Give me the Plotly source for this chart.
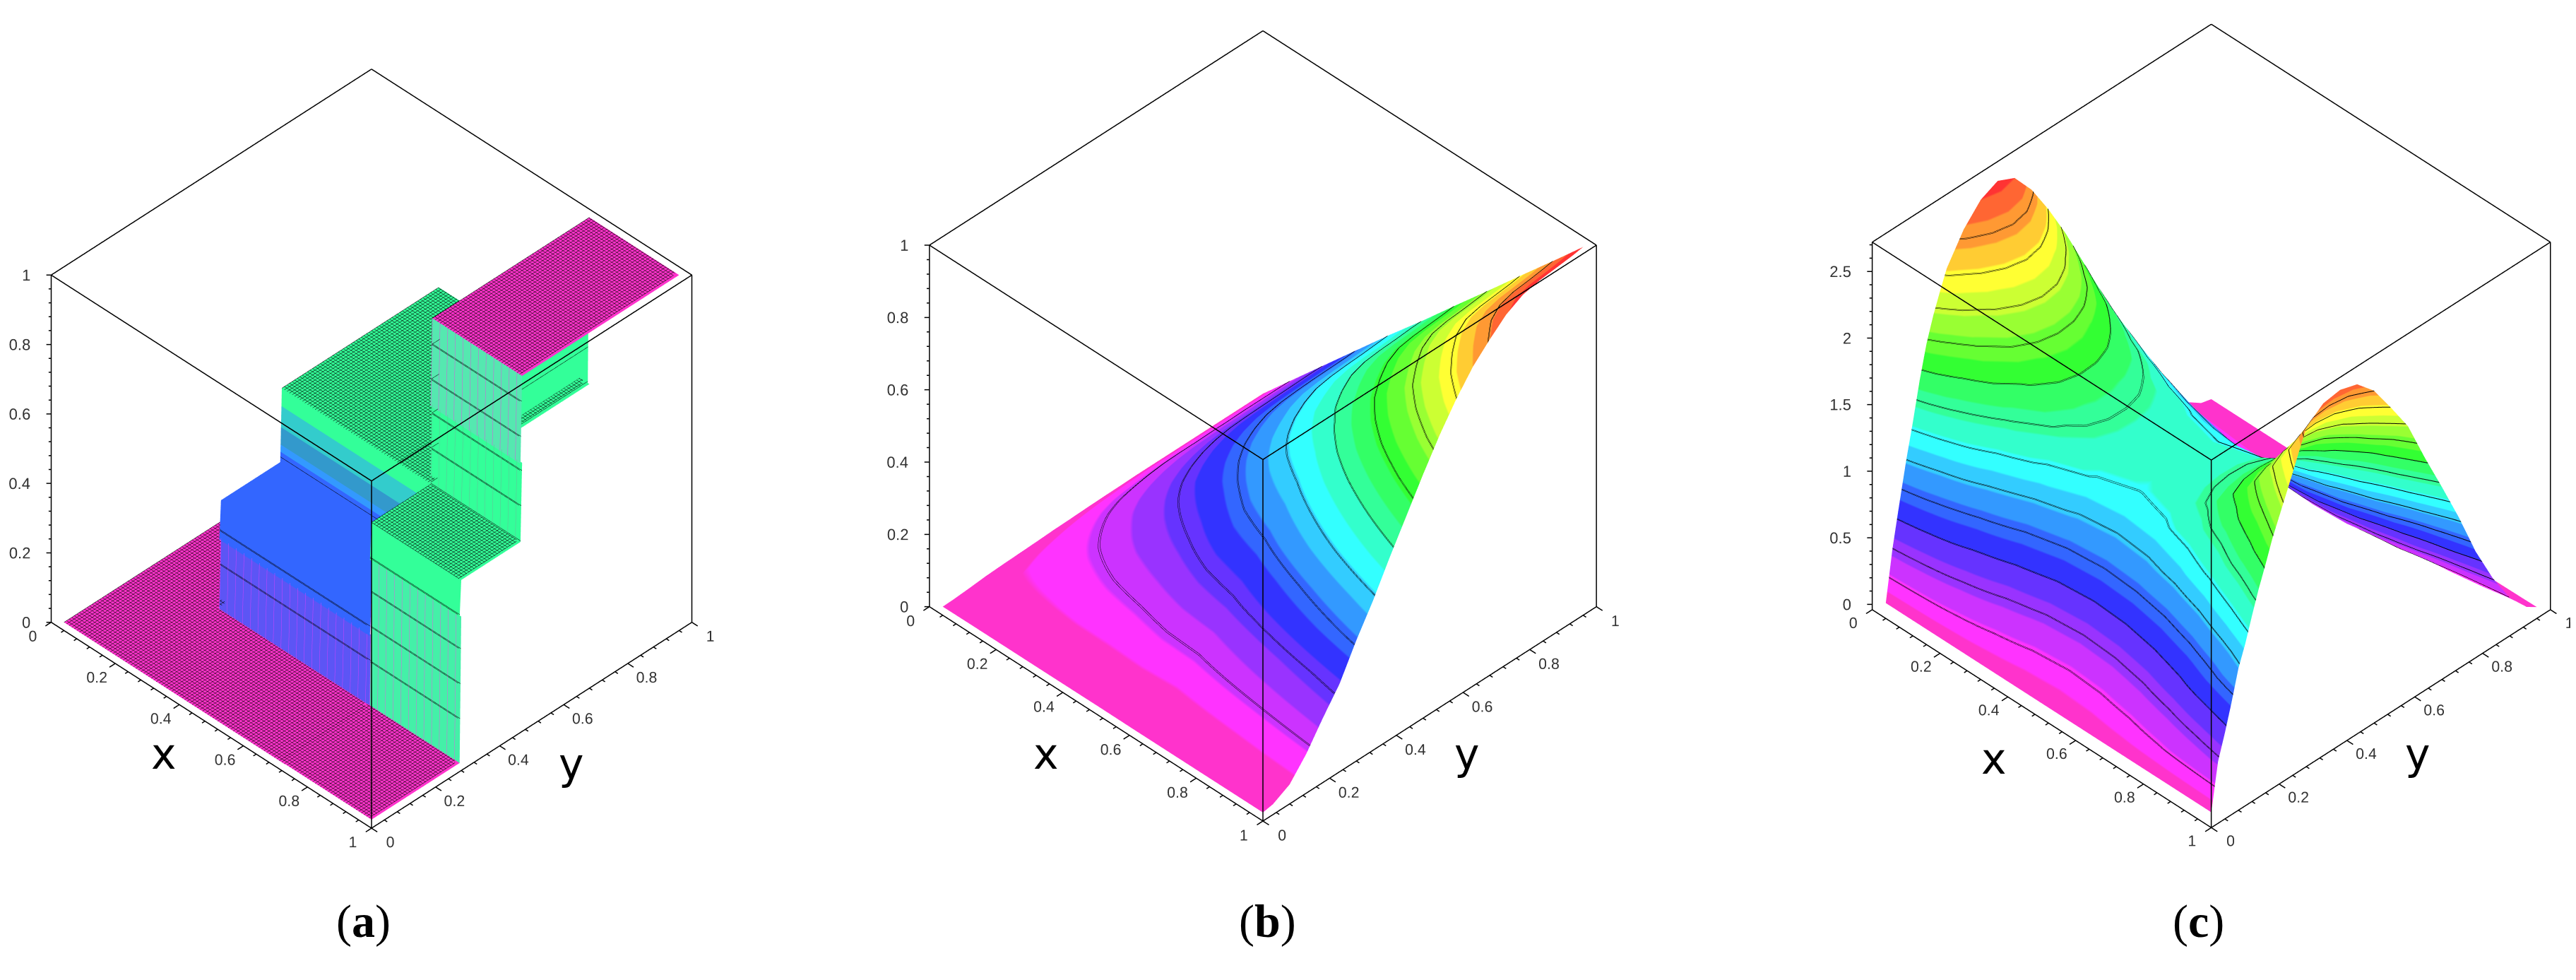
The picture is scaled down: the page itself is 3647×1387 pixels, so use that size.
import numpy as np
import plotly.graph_objects as go

W, H = 3647, 1387

# --- panel (b): surface height, one list per x node
x_b = [0.02, 0.1, 0.2, 0.3, 0.4, 0.5, 0.6, 0.7, 0.8, 0.9, 0.98]
y_b = [0.02, 0.05, 0.1, 0.15, 0.2, 0.25, 0.3, 0.35, 0.4, 0.45, 0.5, 0.55, 0.6, 0.65, 0.7, 0.75, 0.8, 0.85, 0.9, 0.95, 0.98]
z_b_by_x = [
    [.0001, .0009, .004, .008, .01, .0115, .013, .015, .016, .0175, .0185, .019, .02, .02, .02, .02, .02, .02, .02, .02, .02],
    [.0004, .0046, .02, .04, .049, .058, .066, .074, .082, .088, .092, .096, .099, .1, .1, .101, .101, .102, .102, .102, .102],
    [.0004, .004, .022, .045, .063, .08, .098, .115, .133, .149, .163, .175, .185, .193, .198, .2, .201, .202, .203, .204, .204],
    [.0003, .005, .021, .052, .073, .099, .125, .153, .177, .203, .228, .248, .266, .28, .291, .297, .3, .302, .303, .304, .306],
    [.0004, .004, .02, .053, .08, .112, .147, .182, .216, .251, .286, .316, .341, .361, .379, .392, .398, .401, .403, .406, .408],
    [.0005, .004, .02, .056, .092, .128, .173, .217, .263, .306, .347, .388, .421, .449, .469, .487, .497, .501, .503, .506, .507],
    [0, .003, .018, .052, .095, .135, .19, .239, .294, .346, .398, .447, .49, .526, .554, .578, .594, .6, .603, .606, .609],
    [0, .004, .021, .061, .111, .157, .221, .278, .343, .403, .464, .521, .571, .614, .646, .675, .693, .7, .703, .707, .71],
    [0, .004, .024, .069, .126, .18, .253, .318, .392, .461, .53, .596, .653, .702, .738, .771, .792, .8, .804, .808, .812],
    [0, .005, .028, .078, .142, .202, .285, .358, .441, .519, .597, .67, .734, .789, .831, .868, .89, .9, .904, .909, .913],
    [0, .005, .03, .085, .155, .22, .31, .39, .48, .565, .65, .73, .8, .86, .905, .945, .97, .98, .985, .99, .995],
]

# --- panel (c): surface height above the box floor, one list per y node
x_c = [0.02, 0.06, 0.1, 0.2, 0.3, 0.4, 0.5, 0.6, 0.7, 0.8, 0.9, 0.94, 0.98]
y_c = [0.02, 0.04, 0.06, 0.08, 0.1, 0.12, 0.14, 0.16, 0.18, 0.2, 0.25, 0.3, 0.35, 0.4, 0.45, 0.5, 0.55, 0.6, 0.65, 0.7, 0.75, 0.8, 0.85, 0.9, 0.95, 0.98]
z_c = [
    [.05, .05, .05, .05, .05, .05, .05, .05, .05, .05, .05, .05, .05],
    [.43, .376, .326, .223, .149, .105, .09, .103, .144, .211, .305, .35, .4],
    [.73, .637, .553, .376, .251, .175, .15, .168, .225, .318, .448, .511, .58],
    [1.02, .892, .775, .532, .359, .254, .22, .244, .317, .438, .609, .69, .78],
    [1.28, 1.123, .98, .682, .471, .342, .3, .33, .422, .573, .786, .888, 1.0],
    [1.56, 1.376, 1.208, .859, .61, .459, .41, .442, .539, .699, .924, 1.032, 1.15],
    [1.8, 1.597, 1.411, 1.025, .751, .585, .53, .564, .669, .842, 1.085, 1.202, 1.33],
    [1.98, 1.769, 1.576, 1.175, .89, .717, .66, .696, .806, .988, 1.243, 1.366, 1.5],
    [2.13, 1.917, 1.723, 1.319, 1.031, .857, .8, .837, .948, 1.132, 1.39, 1.514, 1.65],
    [2.27, 2.054, 1.857, 1.447, 1.155, .978, .92, .958, 1.075, 1.267, 1.538, 1.668, 1.81],
    [2.48, 2.267, 2.073, 1.669, 1.381, 1.207, 1.15, 1.193, 1.322, 1.536, 1.837, 1.982, 2.14],
    [2.62, 2.399, 2.198, 1.778, 1.48, 1.299, 1.24, 1.293, 1.456, 1.724, 2.101, 2.282, 2.48],
    [2.68, 2.454, 2.249, 1.82, 1.515, 1.331, 1.27, 1.326, 1.498, 1.781, 2.179, 2.37, 2.58],
    [2.62, 2.406, 2.21, 1.803, 1.513, 1.338, 1.28, 1.337, 1.51, 1.795, 2.196, 2.389, 2.6],
    [2.45, 2.263, 2.092, 1.736, 1.484, 1.33, 1.28, 1.335, 1.503, 1.779, 2.168, 2.355, 2.56],
    [2.22, 2.066, 1.926, 1.634, 1.427, 1.301, 1.26, 1.31, 1.464, 1.716, 2.072, 2.243, 2.43],
    [1.96, 1.835, 1.721, 1.484, 1.316, 1.214, 1.18, 1.225, 1.361, 1.586, 1.902, 2.054, 2.22],
    [1.67, 1.566, 1.471, 1.274, 1.133, 1.048, 1.02, 1.062, 1.191, 1.402, 1.7, 1.843, 2.0],
    [1.37, 1.287, 1.211, 1.053, .94, .872, .85, .886, .994, 1.174, 1.426, 1.547, 1.68],
    [1.08, 1.011, .948, .818, .725, .668, .65, .681, .777, .935, 1.157, 1.263, 1.38],
    [.78, .73, .685, .591, .524, .483, .47, .496, .574, .704, .886, .974, 1.07],
    [.52, .485, .453, .386, .338, .309, .3, .318, .375, .468, .598, .661, .73],
    [.29, .271, .253, .217, .191, .175, .17, .182, .219, .279, .364, .405, .45],
    [.12, .112, .105, .09, .079, .072, .07, .076, .096, .129, .174, .196, .22],
    [.03, .028, .027, .024, .022, .02, .02, .022, .029, .04, .055, .062, .07],
    [.01, .01, .01, .01, .01, .01, .01, .011, .012, .014, .017, .018, .02],
]
floor_c = -0.04  # the box of panel (c) starts a little below its 0 tick

# --- panel (a): step surface, flats and walls as x0, x1, y0, y1, z0, z1
flats_a = [
    (0.02, 0.71, 0.02, 0.295, 0.0, "#ff33cc", True),
    (0.692, 0.98, 0.02, 0.295, 0.001, "#ff33cc", True),
    (0.02, 0.23, 0.292, 0.98, 0.0, "#ff33cc", True),
    (0.23, 0.70, 0.30, 0.485, 0.31, "#3366ff", False),
    (0.70, 0.98, 0.30, 0.485, 0.525, "#33ff99", True),
    (0.23, 0.70, 0.49, 0.98, 0.52, "#33ff99", True),
    (0.70, 0.98, 0.49, 0.98, 1.0, "#ff33cc", True),
]
walls_a = [
    (0.70, 0.98, 0.295, 0.30, 0.0, 0.42, "#44f0a8", "#e060e0"),
    (0.70, 0.98, 0.295, 0.30, 0.42, 0.525, "#33ff99", None),
    (0.23, 0.70, 0.295, 0.30, 0.0, 0.2, "#5c55f5", "#d040ff"),
    (0.23, 0.70, 0.295, 0.30, 0.2, 0.31, "#3366ff", None),
    (0.70, 0.98, 0.485, 0.49, 0.525, 0.75, "#33ff99", "#66bb99"),
    (0.70, 0.98, 0.485, 0.49, 0.75, 1.0, "#55e8b0", "#e050e0"),
]
under_a = (0.695, 0.70, 0.49, 0.98, 0.52, 1.0, "#33ff99")
# wall between the blue and the green flat
band_z_a = [0.31, 0.34, 0.36, 0.41, 0.47, 0.52]
band_col_a = ["#3366ff", "#3399ff", "#3399cc", "#33cccc", "#33ff99"]

# --- shared
hue_bands = ["#ff33cc", "#ff33ff", "#cc33ff", "#9933ff", "#6633ff", "#3333ff", "#3366ff", "#3399ff",
             "#33ccff", "#33ffff", "#33ffcc", "#33ff99", "#33ff66", "#33ff33", "#66ff33", "#99ff33",
             "#ccff33", "#ffff33", "#ffcc33", "#ff9933", "#ff6633", "#ff3333"]
tick_01 = [0, 0.2, 0.4, 0.6, 0.8, 1]
tick_01_text = ["0", "0.2", "0.4", "0.6", "0.8", "1"]
tick_c = [0, 0.5, 1, 1.5, 2, 2.5]
tick_c_text = ["0", "0.5", "1", "1.5", "2", "2.5"]
zmax_c = 2.72

FLAT = dict(ambient=1, diffuse=0, specular=0, roughness=1, fresnel=0)
PAD = 0.03
Z_PAD = 0.005
Z_LABEL_FONT = dict(family="Liberation Sans", size=22, color="#333333")
AXIS_LABEL_FONT = dict(family="Liberation Sans", size=16, color="#333333")


def stepped(colors, edges=None):
    n = len(colors)
    if edges is None:
        edges = [i / n for i in range(n + 1)]
    scale = []
    for i, c in enumerate(colors):
        scale += [[edges[i], c], [edges[i + 1], c]]
    return scale


def z_lines(start, end, size):
    return dict(show=True, start=start, end=end, size=size, color="black", width=2, highlight=False)


def off():
    return dict(show=False, highlight=False)


def solid(xs, ys, zs, color, scene, contours):
    zs = np.array(zs, dtype=float)
    return go.Surface(x=xs, y=ys, z=zs, surfacecolor=np.zeros_like(zs), cmin=0, cmax=1,
                      colorscale=[[0, color], [1, color]], showscale=False, lighting=FLAT,
                      hoverinfo="skip", scene=scene, contours=contours)


def thicken(xs, ys, zs, scene, start, end, size):
    # gl contour lines stay one pixel wide, so a second set sits just next to the first
    return go.Surface(x=xs, y=ys, z=zs, hidesurface=True, showscale=False, hoverinfo="skip", scene=scene,
                      contours=dict(z=z_lines(start, end, size), x=off(), y=off()))


def frame(scene, zmin, zmax, major_z, minor_z):
    xs, ys, zs = [], [], []

    def seg(a, b):
        xs.extend([a[0], b[0], None])
        ys.extend([a[1], b[1], None])
        zs.extend([a[2], b[2], None])

    for a, b in [((0, 0, zmin), (1, 0, zmin)), ((1, 0, zmin), (1, 1, zmin)), ((0, 0, zmin), (0, 0, zmax)),
                 ((1, 0, zmin), (1, 0, zmax)), ((1, 1, zmin), (1, 1, zmax)), ((0, 0, zmax), (1, 0, zmax)),
                 ((1, 0, zmax), (1, 1, zmax)), ((1, 1, zmax), (0, 1, zmax)), ((0, 1, zmax), (0, 0, zmax))]:
        seg(a, b)
    for i in range(26):
        t = i / 25
        d = 0.018 if i % 5 == 0 else 0.009
        seg((t, 0, zmin), (t, -d, zmin))
        seg((1, t, zmin), (1 + d, t, zmin))
    for v in minor_z:
        seg((0, 0, v), (-0.004, -0.004, v))
    for v in major_z:
        seg((0, 0, v), (-0.0075, -0.0075, v))
    return go.Scatter3d(x=xs, y=ys, z=zs, mode="lines", line=dict(color="black", width=3),
                        hoverinfo="skip", showlegend=False, scene=scene)


def z_labels(scene, ztick, ztext):
    n = len(ztick)
    return go.Scatter3d(x=[-0.009] * n, y=[-0.009] * n, z=ztick, text=ztext, mode="text",
                        textposition="middle left", textfont=Z_LABEL_FONT,
                        hoverinfo="skip", showlegend=False, scene=scene)


def scene_layout(cx, cy, half_w, half_h, zmin, zmax, k, shift=0.0, lift=0.0):
    axis = dict(showbackground=False, showgrid=False, zeroline=False, showline=False, showspikes=False,
                ticks="", title=dict(text=""), tickangle=0, tickfont=AXIS_LABEL_FONT)
    return dict(
        domain=dict(x=[(cx - half_w) / W, (cx + half_w) / W], y=[1 - (cy + half_h) / H, 1 - (cy - half_h) / H]),
        xaxis=dict(axis, range=[-PAD, 1 + PAD], tickvals=tick_01, ticktext=tick_01_text),
        yaxis=dict(axis, range=[-PAD, 1 + PAD], tickvals=tick_01, ticktext=tick_01_text),
        zaxis=dict(axis, range=[zmin - Z_PAD, zmax + Z_PAD], showticklabels=False),
        aspectmode="manual",
        aspectratio=dict(x=k * (1 + 2 * PAD), y=k * (1 + 2 * PAD), z=k * (1 + 2 * Z_PAD / (zmax - zmin))),
        camera=dict(projection=dict(type="orthographic"),
                    eye=dict(x=0.877 - shift, y=-0.877 - shift, z=1.04 - lift),
                    center=dict(x=-shift, y=-shift, z=-lift), up=dict(x=0, y=0, z=1)),
    )


fig = go.Figure()

# panel (a)
hatch = dict(show=True, color="black", width=2, highlight=False)
for x0, x1, y0, y1, z, color, hatched in flats_a:
    cont = dict(z=off(), x=off(), y=off())
    if hatched:
        # the piece raised by 0.001 leaves out its first line, the piece below already has it
        first_x = x0 + 0.008 if z == 0.001 else x0
        cont["x"] = dict(hatch, start=first_x, end=x1 + 0.02, size=0.008)
        cont["y"] = dict(hatch, start=y0, end=y1 + 0.02, size=0.008)
    fig.add_trace(solid([x0, x1], [y0, y1], [[z, z], [z, z]], color, "scene", cont))
for x0, x1, y0, y1, z0, z1, color, streak in walls_a:
    cont = dict(z=z_lines(0.125, 0.925, 0.1), x=off(), y=off())
    if streak:
        cont["x"] = dict(show=True, start=x0, end=x1, size=0.024, color=streak, width=2, highlight=False)
    fig.add_trace(solid([x0, x1], [y0, y1], [[z0, z0], [z1, z1]], color, "scene", cont))
    fig.add_trace(thicken([x0, x1], [y0, y1], [[z0, z0], [z1, z1]], "scene", 0.128, 0.928, 0.1))
x0, x1, y0, y1, z0, z1, color = under_a
fig.add_trace(solid([x0, x1], [y0, y1], [[z0, z1], [z0, z1]], color, "scene",
                    dict(z=z_lines(0.125, 0.925, 0.1), x=off(), y=off())))
band_span = band_z_a[-1] - band_z_a[0]
fig.add_trace(go.Surface(x=[0.23, 0.70], y=[0.485, 0.49], z=[[0.31, 0.31], [0.52, 0.52]],
                         cmin=band_z_a[0], cmax=band_z_a[-1],
                         colorscale=stepped(band_col_a, [(v - band_z_a[0]) / band_span for v in band_z_a]),
                         showscale=False, lighting=FLAT, hoverinfo="skip", scene="scene",
                         contours=dict(z=z_lines(0.325, 0.425, 0.1), x=off(), y=off())))
fig.add_trace(frame("scene", 0, 1, tick_01, [i / 25 for i in range(26)]))
fig.add_trace(z_labels("scene", tick_01, tick_01_text))

# panel (b)
z_b = np.array(z_b_by_x).T
fig.add_trace(go.Surface(x=x_b, y=y_b, z=z_b, cmin=0, cmax=1, colorscale=stepped(hue_bands),
                         showscale=False, lighting=FLAT, hoverinfo="skip", scene="scene2",
                         contours=dict(z=z_lines(0.1, 0.9, 0.1), x=off(), y=off())))
fig.add_trace(thicken(x_b, y_b, z_b, "scene2", 0.102, 0.902, 0.1))
fig.add_trace(frame("scene2", 0, 1, tick_01, [i / 25 for i in range(26)]))
fig.add_trace(z_labels("scene2", tick_01, tick_01_text))

# panel (c)
z_c_plot = np.array(z_c) + floor_c
fig.add_trace(go.Surface(x=x_c, y=y_c, z=z_c_plot, cmin=floor_c, cmax=zmax_c, colorscale=stepped(hue_bands),
                         showscale=False, lighting=FLAT, hoverinfo="skip", scene="scene3",
                         contours=dict(z=z_lines(0.185, 2.585, 0.2), x=off(), y=off())))
fig.add_trace(thicken(x_c, y_c, z_c_plot, "scene3", 0.19, 2.59, 0.2))
fig.add_trace(frame("scene3", floor_c, zmax_c, tick_c, [i / 10 for i in range(28)]))
fig.add_trace(z_labels("scene3", tick_c, tick_c_text))


def note(text, px, py, size, family):
    return dict(text=text, x=px / W, y=1 - py / H, xref="paper", yref="paper", showarrow=False,
                xanchor="center", yanchor="middle", font=dict(family=family, size=size, color="black"))


fig.update_layout(
    width=W, height=H, margin=dict(l=0, r=0, t=0, b=0), paper_bgcolor="white", showlegend=False,
    scene=scene_layout(518, 627, 518, 600, 0, 1, 1.069),
    scene2=scene_layout(1780, 620, 560, 620, 0, 1, 1.077, lift=0.053),
    scene3=scene_layout(3093.5, 620, 553, 620, floor_c, zmax_c, 1.095, shift=0.0327, lift=0.053),
    annotations=[
        note("x", 224, 1059, 60, "DejaVu Sans"), note("y", 801, 1073, 60, "DejaVu Sans"),
        note("x", 1473, 1059, 60, "DejaVu Sans"), note("y", 2069, 1059, 60, "DejaVu Sans"),
        note("x", 2815, 1066, 60, "DejaVu Sans"), note("y", 3415, 1059, 60, "DejaVu Sans"),
        note("(<b>a</b>)", 506, 1296, 66, "Liberation Serif"),
        note("(<b>b</b>)", 1786, 1296, 66, "Liberation Serif"),
        note("(<b>c</b>)", 3104, 1296, 66, "Liberation Serif"),
    ],
)

fig.write_html("out.html")
